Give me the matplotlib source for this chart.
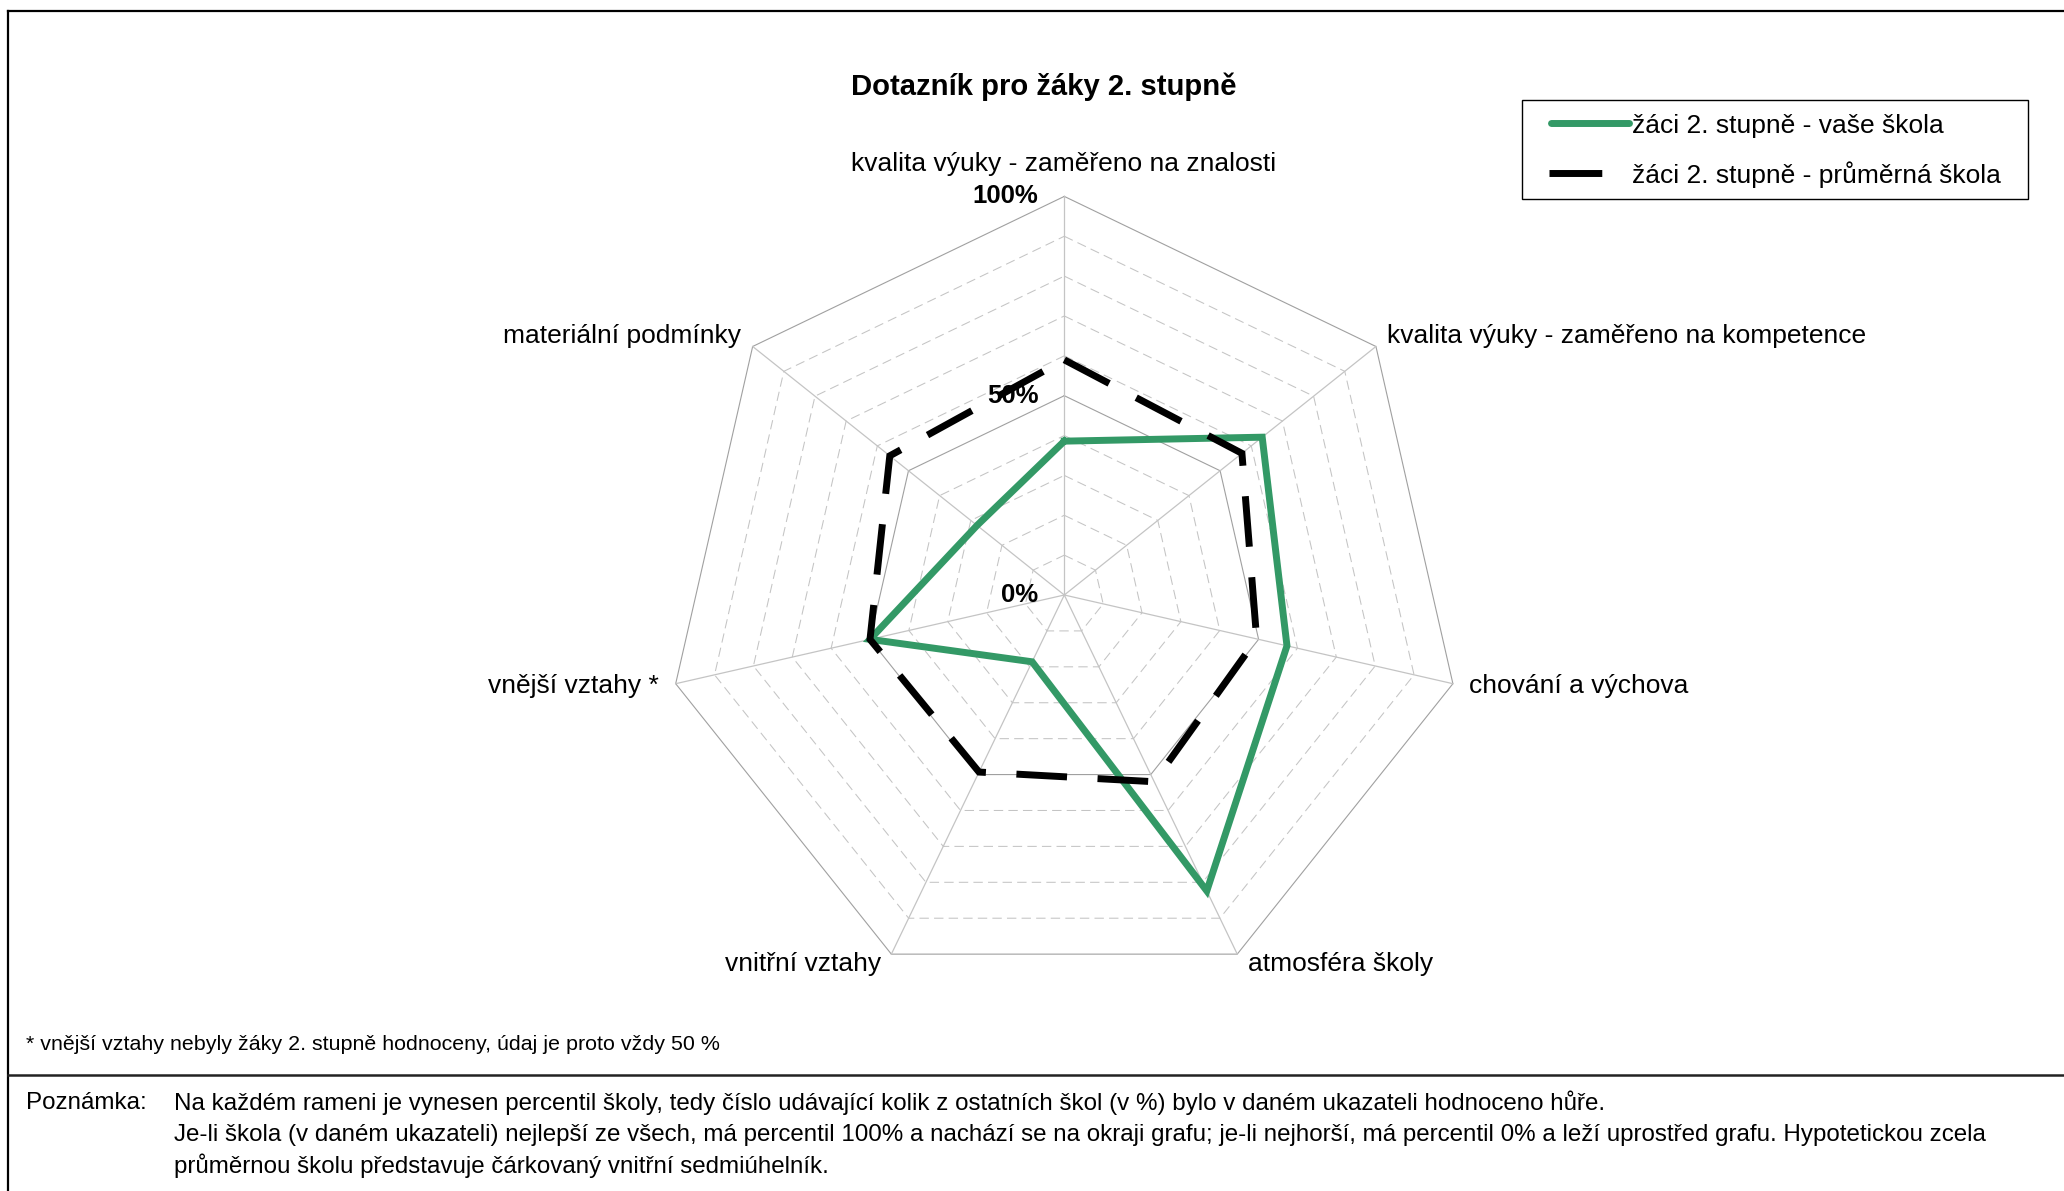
import numpy as np
import matplotlib
matplotlib.use("Agg")
import matplotlib.pyplot as plt
from matplotlib.lines import Line2D
from matplotlib.patches import Rectangle

plt.rcParams['font.family'] = ['Liberation Sans', 'DejaVu Sans']

# ---------------- data ----------------
title = "Dotazník pro žáky 2. stupně"
categories = [
    "kvalita výuky - zaměřeno na znalosti",
    "kvalita výuky - zaměřeno na kompetence",
    "chování a výchova",
    "atmosféra školy",
    "vnitřní vztahy",
    "vnější vztahy *",
    "materiální podmínky",
]
series_names = ["žáci 2. stupně - vaše škola", "žáci 2. stupně - průměrná škola"]
vase_skola = [38.6, 63.5, 57.3, 82.4, 18.6, 50.0, 28.0]
prumerna_skola = [59.0, 57.0, 49.5, 52.0, 49.3, 50.0, 56.0]
tick_values = [0, 50, 100]
tick_labels = ["0%", "50%", "100%"]
footnote = "* vnější vztahy nebyly žáky 2. stupně hodnoceny, údaj je proto vždy 50 %"
note_head = "Poznámka:"
note_lines = [
    "Na každém rameni je vynesen percentil školy, tedy číslo udávající kolik z ostatních škol (v %) bylo v daném ukazateli hodnoceno hůře.",
    "Je-li škola (v daném ukazateli) nejlepší ze všech, má percentil 100% a nachází se na okraji grafu; je-li nejhorší, má percentil 0% a leží uprostřed grafu. Hypotetickou zcela",
    "průměrnou školu představuje čárkovaný vnitřní sedmiúhelník.",
]

# ---------------- layout ----------------
W, H = 2064, 1191
DPI = 100
fig = plt.figure(figsize=(W / DPI, H / DPI), dpi=DPI)
fig.patch.set_facecolor("white")


def fx(x):
    return x / W


def fy(y):
    return 1 - y / H


cx, cy, R = 1064.3, 595.0, 398.6
lim = 110
unit = R / 100.0
side = 2 * lim * unit
ax = fig.add_axes([fx(cx - side / 2), fy(cy + side / 2), side / W, side / H])
ax.set_xlim(-lim, lim)
ax.set_ylim(-lim, lim)
ax.axis("off")

n = len(categories)
theta = np.arange(n) * 2 * np.pi / n
sx, sy = np.sin(theta), np.cos(theta)

# grid rings
for r in range(10, 101, 10):
    xs = np.append(r * sx, r * sx[0])
    ys = np.append(r * sy, r * sy[0])
    if r in (50, 100):
        ax.plot(xs, ys, color="#a0a0a0", lw=0.8, zorder=1)
    else:
        ax.plot(xs, ys, color="#c4c4c4", lw=0.75, linestyle=(0, (9, 5)), zorder=1)
# spokes
for i in range(n):
    ax.plot([0, 100 * sx[i]], [0, 100 * sy[i]], color="#c4c4c4", lw=0.9, zorder=1)

# tick labels
for v, lab in zip(tick_values, tick_labels):
    ax.annotate(lab, xy=(0, v), xytext=(-26 * 0.72, 0), textcoords="offset points",
                ha="right", va="center", fontsize=18.5, fontweight="bold", zorder=2)

green = "#339966"
gv = np.array(vase_skola + vase_skola[:1])
bv = np.array(prumerna_skola + prumerna_skola[:1])
tx = np.append(sx, sx[0])
ty = np.append(sy, sy[0])
ax.plot(gv * tx, gv * ty, color=green, lw=5.0, solid_joinstyle="miter", zorder=3)
ax.plot(bv * tx, bv * ty, color="black", lw=5.0, linestyle=(0, (7.3, 4.4)),
        dash_joinstyle="miter", dash_capstyle="butt", zorder=4)

# category labels (pixel positions)
lab_fs = 19
label_pos = [
    (1064, 164, "center"),
    (1387, 336, "left"),
    (1469, 686, "left"),
    (1248, 964, "left"),
    (881, 964, "right"),
    (659, 686, "right"),
    (741, 336, "right"),
]
for (px, py, ha), lab in zip(label_pos, categories):
    fig.text(fx(px), fy(py), lab, ha=ha, va="center", fontsize=lab_fs)

# title
fig.text(fx(1044), fy(87), title, ha="center", va="center", fontsize=21.1, fontweight="bold")

# legend (manual)
fig.add_artist(Rectangle((fx(1522), fy(199)), (2028 - 1522) / W, (199 - 100) / H,
                         transform=fig.transFigure, facecolor="white", edgecolor="black", lw=1.0))
fig.add_artist(Line2D([fx(1551), fx(1629)], [fy(123), fy(123)], transform=fig.transFigure,
                      color=green, lw=5.0, solid_capstyle="round"))
fig.add_artist(Line2D([fx(1549), fx(1632)], [fy(172.5), fy(172.5)], transform=fig.transFigure,
                      color="black", lw=5.0, linestyle=(0, (7.6, 4.4)), dash_capstyle="butt"))
fig.text(fx(1632), fy(126), series_names[0], ha="left", va="center", fontsize=19)
fig.text(fx(1632), fy(175), series_names[1], ha="left", va="center", fontsize=19)

# frame lines
fig.add_artist(Line2D([fx(8), fx(8)], [fy(11), 0], transform=fig.transFigure, color="black", lw=1.6))
fig.add_artist(Line2D([fx(8), 1], [fy(11), fy(11)], transform=fig.transFigure, color="black", lw=1.6))
fig.add_artist(Line2D([fx(8), 1], [fy(1075), fy(1075)], transform=fig.transFigure, color="#222222", lw=1.8))

# footnotes
fig.text(fx(26), fy(1044), footnote, ha="left", va="center", fontsize=15.4)
fig.text(fx(26), fy(1103), note_head, ha="left", va="center", fontsize=17.35)
for i, line in enumerate(note_lines):
    fig.text(fx(174), fy(1103 + i * 31.6), line, ha="left", va="center", fontsize=17.35)

fig.savefig("out.png", dpi=DPI, facecolor="white")
